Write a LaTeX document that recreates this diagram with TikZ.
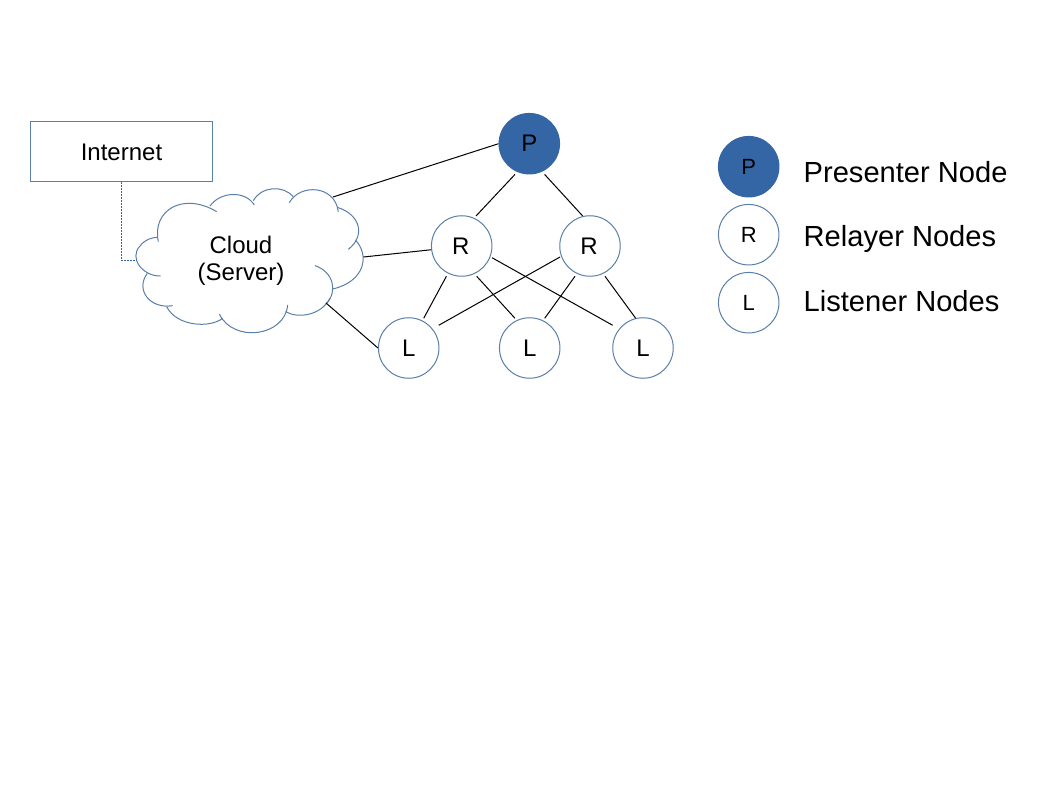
\documentclass[tikz,border=0pt]{standalone}
\usepackage{fontspec}
\setmainfont{Liberation Sans}
\definecolor{nodeblue}{HTML}{3465A4}
\definecolor{edgeblue}{HTML}{5A7FA8}
\tikzset{
  big/.style={font=\fontsize{24}{27}\selectfont},
  peer/.style={circle,draw=edgeblue,line width=1pt,minimum size=60.5pt,inner sep=0pt,fill=white,text=black,big},
  presenter/.style={peer,draw=nodeblue,fill=nodeblue},
  peersmall/.style={font=\fontsize{22}{24}\selectfont},
  legendtext/.style={anchor=base west,inner sep=0pt,font=\fontsize{29.1}{32}\selectfont},
  link/.style={black,line width=1pt},
  cloudarc/.style={edgeblue,line width=1pt},
}
\begin{document}
\begin{tikzpicture}[x=1pt,y=-1pt]
\useasboundingbox[fill=white] (0,0) rectangle (1058,794);
% Internet box
\node[draw=edgeblue,line width=1pt,minimum width=181.6pt,minimum height=60.4pt,inner sep=0pt,big] (inet) at (121.5,151.5) {\raisebox{-1pt}[\height][\depth]{Internet}};
% Peers
\node[presenter] (P) at (529.3,143.7) {P};
\node[peer] (R1) at (461.7,246) {\kern-2pt R};
\node[peer] (R2) at (590,246) {\kern-2pt R};
\node[peer] (L1) at (408.7,348) {L};
\node[peer] (L2) at (529.7,348) {L};
\node[peer] (L3) at (643,348) {L};
% Cloud attachment points
\coordinate (cW) at (136.7,260.7);
\coordinate (cNE) at (333,197);
\coordinate (cE) at (363.5,257);
\coordinate (cSE) at (326,303);
\coordinate (bend) at (121.5,260.7);
% Cloud outline
\begin{scope}[shift={(120,170)},x=0.3333pt,y=-0.3333pt,cloudarc]
\draw (115,215) .. controls (95,120) and (190,65) .. (290,125);
\draw (270,108) .. controls (300,65) and (375,60) .. (403,105);
\draw (400,92) .. controls (425,48) and (490,45) .. (520,80);
\draw (508,98) .. controls (540,40) and (645,45) .. (655,125);
\draw (652,112) .. controls (725,135) and (735,200) .. (685,238);
\draw (706,210) .. controls (750,255) and (735,335) .. (638,357);
\draw (585,287) .. controls (640,305) and (655,365) .. (618,402);
\draw (630,385) .. controls (600,440) and (530,445) .. (497,425);
\draw (503,405) .. controls (495,500) and (340,520) .. (298,432);
\draw (308,445) .. controls (270,475) and (170,470) .. (140,410);
\draw (158,407) .. controls (90,418) and (45,360) .. (82,310);
\draw (122,318) .. controls (70,320) and (25,265) .. (60,228) .. controls (75,208) and (95,203) .. (112,202);
\end{scope}
\node[big,align=center,inner sep=0pt] (cloud) at (241,261) {Cloud\\(Server)};
% Links
\draw[nodeblue,dash pattern=on 1.5pt off 1.5pt,line width=1pt] (inet.south) -- (bend) -- (cW);
\draw[link] (cNE) -- (P.180);
\draw[link] (cE) -- (R1.187.5);
\draw[link] (cSE) -- (L1.180);
\draw[link] ([shift={(-14.3,30.7)}]P.center) -- ([shift={(14.3,-30)}]R1.center);
\draw[link] ([shift={(15.3,30.7)}]P.center) -- ([shift={(-7.3,-30)}]R2.center);
\draw[link] ([shift={(-15.3,30.3)}]R1.center) -- ([shift={(15,-29.7)}]L1.center);
\draw[link] ([shift={(15,30.3)}]R1.center) -- ([shift={(-14.7,-29.7)}]L2.center);
\draw[link] ([shift={(30.3,11.7)}]R1.center) -- ([shift={(-30.3,-22.7)}]L3.center);
\draw[link] ([shift={(-30,11)}]R2.center) -- ([shift={(30,-22.7)}]L1.center);
\draw[link] ([shift={(-15,30.3)}]R2.center) -- ([shift={(15,-29.7)}]L2.center);
\draw[link] ([shift={(15,30.3)}]R2.center) -- ([shift={(-7.3,-29.7)}]L3.center);
% Legend
\node[presenter,peersmall] (kP) at (748.7,166.7) {P};
\node[peer,peersmall] (kR) at (748.7,234.7) {R};
\node[peer,peersmall] (kL) at (748.7,302.7) {L};
\node[legendtext] (tP) at (803.5,182.5) {Presenter Node};
\node[legendtext] (tR) at (803.5,246.5) {Relayer Nodes};
\node[legendtext] (tL) at (803.5,311.5) {Listener Nodes};
\end{tikzpicture}
\end{document}
